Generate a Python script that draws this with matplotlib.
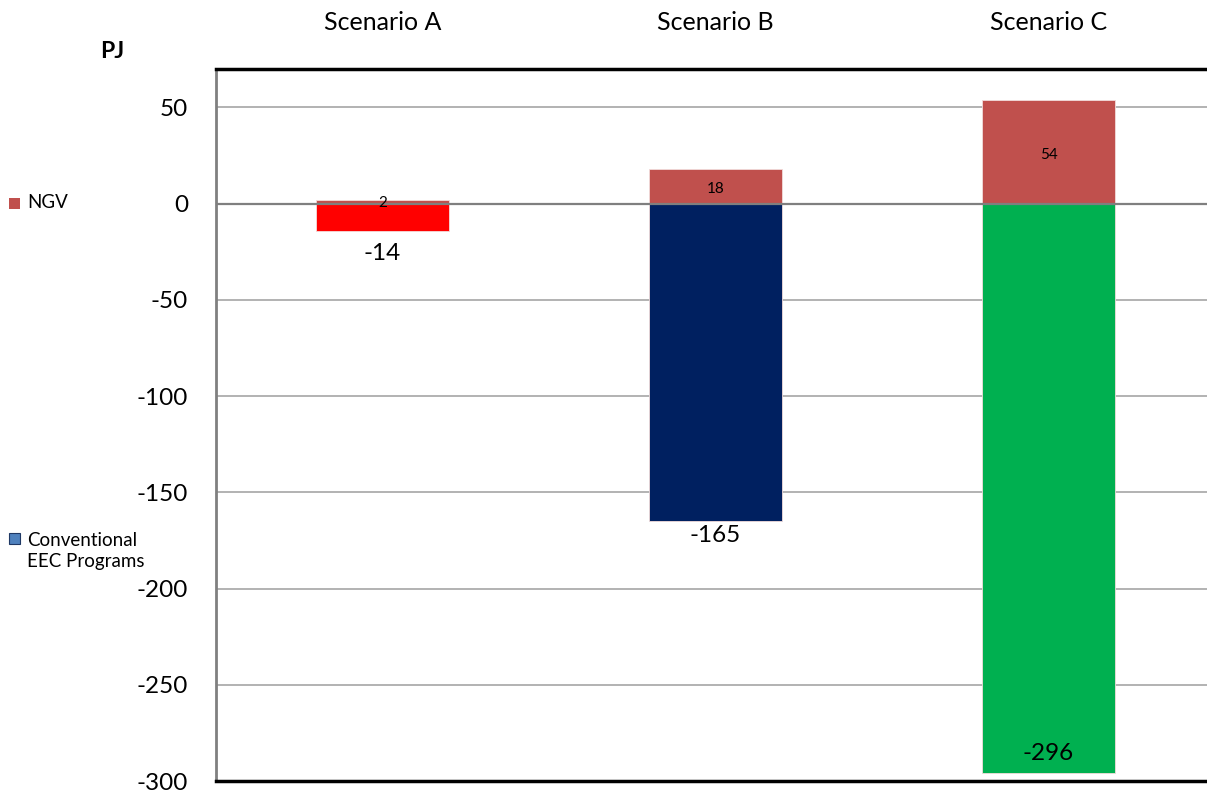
import matplotlib
matplotlib.use("Agg")
import matplotlib.pyplot as plt
from matplotlib.patches import Rectangle

plt.rcParams['font.family'] = ['Lato', 'DejaVu Sans']

scenarios = ["Scenario A", "Scenario B", "Scenario C"]
ngv = [2, 18, 54]
conventional = [-14, -165, -296]
conv_colors = ["#FF0000", "#002060", "#00B050"]
ngv_color = "#C0504D"
yticks = [50, 0, -50, -100, -150, -200, -250, -300]

fig = plt.figure(figsize=(12.07, 7.93), dpi=100)
ax = fig.add_axes([216 / 1207, 1 - 781 / 793, 999 / 1207, (781 - 69) / 793])

x = list(range(len(scenarios)))
width = 0.4
ax.bar(x, conventional, width=width, color=conv_colors, edgecolor="#F2DCDB", linewidth=0.6, zorder=3)
ax.bar(x, ngv, width=width, color=ngv_color, edgecolor="#F2DCDB", linewidth=0.6, zorder=3)

ax.set_xlim(-0.5, 2.5)
ax.set_ylim(-300, 70)
ax.set_yticks(yticks)
ax.set_yticklabels([str(v) for v in yticks], fontsize=17.5)
ax.tick_params(axis='y', length=0, pad=20)
ax.set_xticks([])

for v in yticks:
    if v == -300:
        continue
    ax.axhline(v, color="#7F7F7F" if v == 0 else "#A6A6A6",
               linewidth=1.6 if v == 0 else 1.2, zorder=4 if v == 0 else 1)

ax.spines["right"].set_visible(False)
ax.spines["top"].set_linewidth(2.5)
ax.spines["bottom"].set_linewidth(2.5)
ax.spines["left"].set_color("#808080")
ax.spines["left"].set_linewidth(2)

# NGV value labels, centred in their segments
for xi, val in zip(x, ngv):
    ypos = val / 2 - 1.5 if val > 5 else 0.3
    ax.text(xi, ypos, str(val), ha="center", va="center", fontsize=11, zorder=5)

# Conventional value labels: below the bar end, or inside when near the axis floor
label_offsets = [-23, -14, 20]  # pixels relative to bar end
for xi, val, off in zip(x, conventional, label_offsets):
    ax.annotate(str(val), xy=(xi, val), xytext=(0, off * 0.72),
                textcoords="offset points", ha="center", va="center",
                fontsize=17.5, zorder=5)

# Scenario titles above the plot
for xi, name in zip(x, scenarios):
    ax.annotate(name, xy=(xi, 1.0), xycoords=("data", "axes fraction"),
                xytext=(0, 46 * 0.72), textcoords="offset points",
                ha="center", va="center", fontsize=18, annotation_clip=False)

fig.text(112 / 1207, 1 - 52 / 793, "PJ", ha="center", va="center",
         fontsize=16.5, fontweight="bold")

# Legend entries on the left
fig.patches.append(Rectangle((9 / 1207, 1 - 209 / 793), 11 / 1207, 11 / 793,
                             transform=fig.transFigure, facecolor=ngv_color,
                             edgecolor="none"))
fig.text(27 / 1207, 1 - 203 / 793, "NGV", ha="left", va="center", fontsize=13.5)
fig.patches.append(Rectangle((9 / 1207, 1 - 544 / 793), 11 / 1207, 11 / 793,
                             transform=fig.transFigure, facecolor="#4F81BD",
                             edgecolor="#1F3864", linewidth=0.8))
fig.text(27 / 1207, 1 - 551 / 793, "Conventional\nEEC Programs", ha="left",
         va="center", fontsize=13.5, linespacing=1.3)

fig.savefig("out.png", dpi=100)
